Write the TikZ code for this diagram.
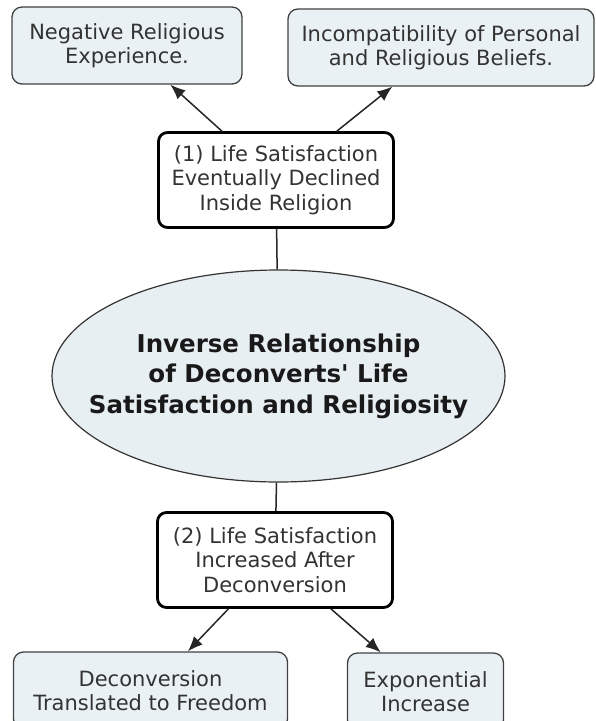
\documentclass[tikz,border=0pt]{standalone}
\usepackage{fontspec}
\setmainfont{DejaVu Sans}
\usetikzlibrary{shapes.geometric,arrows.meta}
\definecolor{leaffill}{HTML}{EAF1F4}
\definecolor{hubfill}{HTML}{E8EFF2}
\definecolor{txtgray}{HTML}{333333}
\begin{document}
\begin{tikzpicture}[x = 1pt, y = -1pt, line join = round, >={Latex[length=15pt,width=12pt]},
	leaf/.style = {draw = black!75, line width = 1.3pt, fill = leaffill, rounded corners = 10pt,
		align = center, text = txtgray, inner sep = 0pt, minimum height = 77pt,
		font = \fontsize{21}{23.5}\selectfont},
	stage/.style = {draw = black, line width = 2.8pt, fill = white, rounded corners = 9pt,
		align = center, text = txtgray, inner sep = 0pt, minimum width = 235pt, minimum height = 95pt,
		font = \fontsize{21}{24.5}\selectfont},
	hub/.style = {ellipse, draw = black!80, line width = 1.2pt, fill = hubfill, inner xsep = -40pt,
		inner ysep = 0pt, minimum width = 453pt, minimum height = 212pt, align = center, text = black!90,
		font = \bfseries\fontsize{24.5}{30.5}\selectfont},
	link/.style = {draw = black!85, line width = 1.5pt}]
	\useasboundingbox (0,0) rectangle (596,721);
	\clip (0,0) rectangle (596,721);
	\path 
	(127,45.5) coordinate (N)   %hộp trái trên
	(441,47.5) coordinate (I)   %hộp phải trên
	(276,180) coordinate (S1)
	(278.5,376) coordinate (H)  %tâm elip
	(275,560) coordinate (S2)
	(150.5,690.5) coordinate (F)
	(425.5,691.5) coordinate (E)
	;
	\node[leaf, minimum width = 230pt] (neg) at (N) {Negative Religious\\Experience.};
	\node[leaf, minimum width = 306pt] (incomp) at (I) {Incompatibility of Personal\\and Religious Beliefs.};
	\node[stage] (one) at (S1) {(1) Life Satisfaction\\Eventually Declined\\Inside Religion};
	\node[hub] (hub) at (H) {Inverse Relationship\\of Deconverts\textquotesingle\ Life\\Satisfaction and Religiosity};
	\node[stage] (two) at (S2) {(2) Life Satisfaction\\Increased After\\Deconversion};
	\node[leaf, minimum width = 274pt] (free) at (F) {Deconversion\\Translated to Freedom};
	\node[leaf, minimum width = 156pt] (expo) at (E) {Exponential\\Increase};
	
	\draw[link]
	(one) -- (hub)
	(hub) -- (two)
	;
	\draw[link, ->] (one) -- (neg);
	\draw[link, ->] (one) -- (incomp);
	\draw[link, ->] (two) -- (free);
	\draw[link, ->] (two) -- (expo);
\end{tikzpicture}
\end{document}
